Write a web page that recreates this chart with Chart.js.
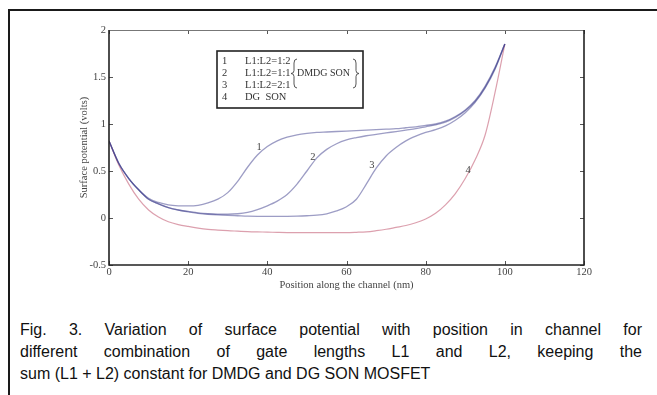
<!DOCTYPE html>
<html>
<head>
<meta charset="utf-8">
<script src="https://cdn.jsdelivr.net/npm/chart.js@4.4.1/dist/chart.umd.min.js"></script>
<style>
  html, body { margin:0; padding:0; background:#fff; width:657px; height:395px; overflow:hidden; }
  #frame { position:absolute; left:8px; top:9px; width:700px; height:420px; border-left:2px solid #1a1a1a; border-top:2px solid #1a1a1a; }
  #wrap { position:absolute; left:0; top:0; width:657px; height:300px; }
  #caption { position:absolute; left:20px; top:319px; width:622px; font-family:"Liberation Sans", Arial, sans-serif; font-size:16px; line-height:22px; color:#111; }
  #caption .j { text-align:justify; text-align-last:justify; white-space:nowrap; }
  #caption div { height:22px; }
</style>
</head>
<body>
<div id="frame"></div>
<div id="wrap"><canvas id="c"></canvas></div>
<div id="caption">
  <div class="j">Fig. 3. Variation of surface potential with position in channel for</div>
  <div class="j">different combination of gate lengths L1 and L2, keeping the</div>
  <div>sum (L1 + L2) constant for DMDG and DG SON MOSFET</div>
</div>
<script>
// ---- data ----
const positions = [0,2.5,5,7.5,10,12.5,15,17.5,20,22.5,25,27.5,30,32.5,35,37.5,40,42.5,45,47.5,50,52.5,55,57.5,60,62.5,65,67.5,70,72.5,75,77.5,80,82.5,85,87.5,90,92.5,95,97.5,100];
const ratio12 = [0.82,0.58,0.42,0.30,0.21,0.165,0.14,0.13,0.128,0.135,0.16,0.20,0.27,0.39,0.54,0.67,0.76,0.82,0.86,0.885,0.90,0.91,0.915,0.92,0.925,0.93,0.935,0.94,0.945,0.95,0.96,0.97,0.985,1.00,1.03,1.08,1.15,1.25,1.40,1.60,1.85];
const ratio11 = [0.82,0.58,0.42,0.30,0.20,0.15,0.11,0.085,0.07,0.055,0.045,0.04,0.04,0.045,0.06,0.09,0.13,0.18,0.25,0.36,0.50,0.64,0.73,0.79,0.83,0.855,0.875,0.89,0.905,0.92,0.935,0.95,0.97,0.99,1.02,1.07,1.14,1.24,1.39,1.59,1.85];
const ratio21 = [0.82,0.58,0.42,0.30,0.20,0.15,0.11,0.085,0.065,0.05,0.04,0.033,0.028,0.024,0.02,0.018,0.017,0.017,0.018,0.02,0.024,0.03,0.045,0.075,0.12,0.20,0.36,0.53,0.66,0.75,0.82,0.87,0.91,0.94,0.98,1.04,1.12,1.23,1.38,1.58,1.85];
const dgSon   = [0.82,0.56,0.36,0.20,0.085,0.01,-0.04,-0.07,-0.09,-0.107,-0.12,-0.128,-0.135,-0.14,-0.145,-0.148,-0.15,-0.153,-0.155,-0.155,-0.155,-0.155,-0.155,-0.155,-0.155,-0.152,-0.147,-0.135,-0.12,-0.10,-0.08,-0.05,-0.01,0.05,0.14,0.26,0.42,0.62,0.88,1.33,1.85];
const xTicks = [0,20,40,60,80,100,120];
const yTicks = [-0.5,0,0.5,1,1.5,2];
const curveTags = ['1','2','3','4'];
const tagX = [37.9,51.5,66.4,90.7];
const tagY = [0.755,0.65,0.565,0.51];
const legendNums = ['1','2','3','4'];
const legendTexts = ['L1:L2=1:2','L1:L2=1:1','L1:L2=2:1','DG  SON'];
const legendGroup = 'DMDG SON';

const serif = '"Liberation Serif", "Times New Roman", serif';
const mk = ys => positions.map((x,i)=>({x, y: ys[i]}));
const blue = 'rgba(60,60,140,0.5)';

const decor = {
  id:'decor',
  afterDraw(chart){
    const ctx = chart.ctx, a = chart.chartArea;
    const xs = chart.scales.x, ys = chart.scales.y;
    ctx.save();
    // ticks inside, all four sides
    ctx.strokeStyle = '#555'; ctx.lineWidth = 1;
    xTicks.forEach(v=>{
      const p = Math.round(xs.getPixelForValue(v))+0.5;
      ctx.beginPath(); ctx.moveTo(p,a.bottom); ctx.lineTo(p,a.bottom-4);
      ctx.moveTo(p,a.top); ctx.lineTo(p,a.top+4); ctx.stroke();
    });
    yTicks.forEach(v=>{
      const p = Math.round(ys.getPixelForValue(v))+0.5;
      ctx.beginPath(); ctx.moveTo(a.left,p); ctx.lineTo(a.left+4,p);
      ctx.moveTo(a.right,p); ctx.lineTo(a.right-4,p); ctx.stroke();
    });
    // box
    ctx.strokeStyle = '#777'; ctx.lineWidth = 1;
    ctx.beginPath(); ctx.moveTo(a.left,a.top+0.5); ctx.lineTo(a.right,a.top+0.5); ctx.stroke();
    ctx.strokeStyle = '#222'; ctx.lineWidth = 1.6;
    ctx.beginPath(); ctx.moveTo(a.left,a.top); ctx.lineTo(a.left,a.bottom); ctx.lineTo(a.right,a.bottom); ctx.lineTo(a.right,a.top); ctx.stroke();
    // curve tags
    ctx.fillStyle = '#444'; ctx.font = '10.5px ' + serif;
    ctx.textAlign = 'center'; ctx.textBaseline = 'middle';
    curveTags.forEach((t,i)=>{
      ctx.fillText(t, xs.getPixelForValue(tagX[i]), ys.getPixelForValue(tagY[i]));
    });
    // legend box
    const lx = a.left + 108, ly = a.top + 21, lw = 146, lh = 57;
    ctx.fillStyle = '#fff'; ctx.fillRect(lx,ly,lw,lh);
    ctx.strokeStyle = '#222'; ctx.lineWidth = 1.6; ctx.strokeRect(lx,ly,lw,lh);
    ctx.fillStyle = '#333'; ctx.textAlign = 'left';
    legendTexts.forEach((t,i)=>{
      const yy = ly + 10.5 + i*12;
      ctx.fillText(legendNums[i], lx + 5, yy);
      ctx.fillText(t, lx + 28, yy);
    });
    ctx.font = '10px ' + serif;
    ctx.fillText(legendGroup, lx + 80, ly + 22.5);
    // braces
    ctx.strokeStyle = '#444'; ctx.lineWidth = 0.9;
    const brace = (x, y0, y1, dir) => {
      const m = (y0+y1)/2, w = 3*dir;
      ctx.beginPath();
      ctx.moveTo(x + w, y0);
      ctx.quadraticCurveTo(x, y0, x, y0+4);
      ctx.lineTo(x, m-3);
      ctx.quadraticCurveTo(x, m, x - w, m);
      ctx.quadraticCurveTo(x, m, x, m+3);
      ctx.lineTo(x, y1-4);
      ctx.quadraticCurveTo(x, y1, x + w, y1);
      ctx.stroke();
    };
    brace(lx + 77, ly + 8, ly + 37, 1);
    brace(lx + 139, ly + 8, ly + 37, -1);
    ctx.restore();
  }
};

new Chart(document.getElementById('c'), {
  type:'line',
  data:{
    datasets:[
      {label:'1', data:mk(ratio12), borderColor:blue, borderWidth:1.3},
      {label:'2', data:mk(ratio11), borderColor:blue, borderWidth:1.3},
      {label:'3', data:mk(ratio21), borderColor:blue, borderWidth:1.3},
      {label:'4', data:mk(dgSon), borderColor:'rgba(205,120,140,0.7)', borderWidth:1.2}
    ]
  },
  options:{
    responsive:true, maintainAspectRatio:false, devicePixelRatio:1, animation:false,
    layout:{ padding:{ left:78, top:30, right:73, bottom:8.4 } },
    elements:{ point:{ radius:0 }, line:{ cubicInterpolationMode:'monotone', fill:false } },
    plugins:{ legend:{ display:false }, tooltip:{ enabled:false } },
    scales:{
      x:{
        type:'linear', min:0, max:120,
        afterBuildTicks: s => { s.ticks = xTicks.map(v=>({value:v})); },
        afterFit: s => { s.height = 26.6; },
        grid:{ display:false, drawTicks:false }, border:{ display:false },
        ticks:{ padding:1, color:'#444', font:{ family:serif, size:10.5 }, maxRotation:0, callback: v => String(v) },
        title:{ display:true, text:'Position along the channel (nm)', color:'#444', padding:0, font:{ family:serif, size:10.5 } }
      },
      y:{
        type:'linear', min:-0.5, max:2,
        afterBuildTicks: s => { s.ticks = yTicks.map(v=>({value:v})); },
        afterFit: s => { s.width = 31; },
        grid:{ display:false, drawTicks:false }, border:{ display:false },
        ticks:{ padding:3, color:'#444', font:{ family:serif, size:10.5 }, callback: v => String(v) },
        title:{ display:true, text:'Surface potential (volts)', color:'#444', padding:0, font:{ family:serif, size:10.5 } }
      }
    }
  },
  plugins:[decor]
});
</script>
</body>
</html>
